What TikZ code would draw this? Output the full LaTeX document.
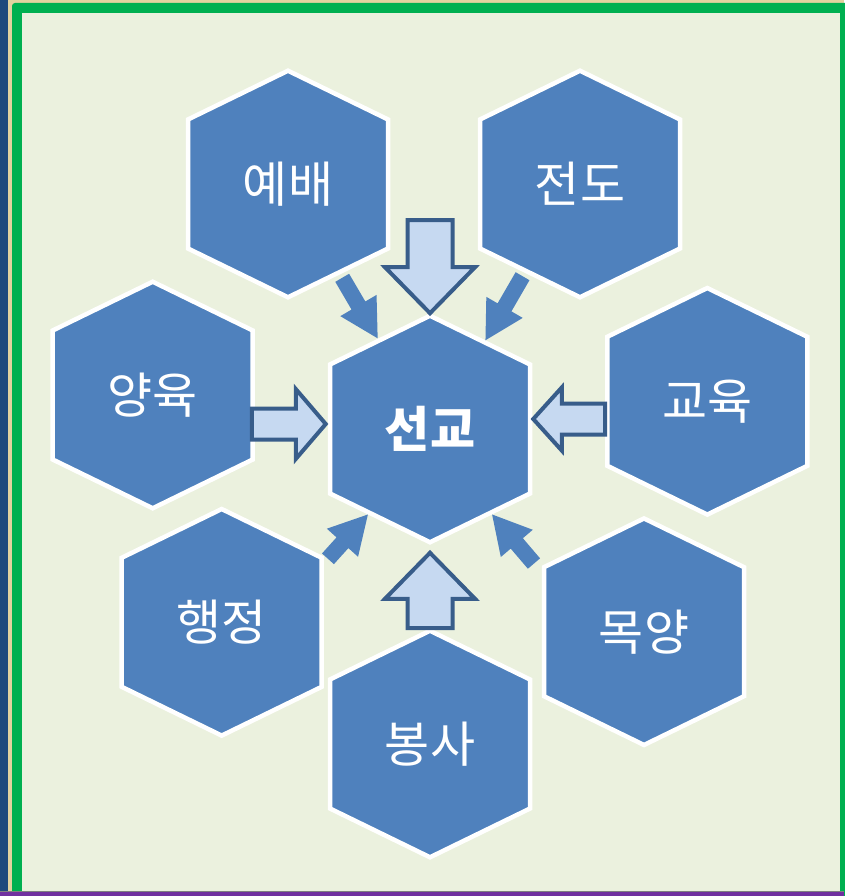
\documentclass[tikz,border=0pt]{standalone}
\usepackage{fontspec}
\newfontfamily\krfont{Noto Sans CJK KR}
\usetikzlibrary{shapes.symbols,calc}

\definecolor{hexblue}{HTML}{4F81BD}
\definecolor{arrowfill}{HTML}{C6D9F1}
\definecolor{arrowline}{HTML}{385D8A}
\definecolor{panel}{HTML}{EBF1DE}
\definecolor{framegreen}{HTML}{00B050}
\definecolor{sidebar}{HTML}{1F497D}
\definecolor{footbar}{HTML}{7030A0}
\definecolor{sand}{HTML}{E3D3A0}

\tikzset{
  hexa/.style={signal, signal to=north and south, signal pointer angle=128,
    minimum width=200pt, minimum height=173pt, inner sep=0pt,
    fill=hexblue, draw=white, line width=4.5pt, text=white,
    font=\krfont\fontsize{49pt}{56pt}\selectfont},
  arrow dims/.code n args={4}{\def\argap{#1}\def\arshaft{#2}\def\arhead{#3}\def\arlen{#4}},
  arrow dims={0pt}{8pt}{21pt}{38pt},
  blockpath/.style={to path={
    ($(\tikztostart)!\argap!(\tikztotarget)$) coordinate (ar-s)
    ($(\tikztotarget)!\arlen!(\tikztostart)$) coordinate (ar-h)
    ($(ar-s)!\arshaft!90:(\tikztotarget)$)
    -- ($(ar-h)!\arshaft!90:(\tikztotarget)$)
    -- ($(ar-h)!\arhead!90:(\tikztotarget)$)
    -- (\tikztotarget)
    -- ($(ar-h)!\arhead!-90:(\tikztotarget)$)
    -- ($(ar-h)!\arshaft!-90:(\tikztotarget)$)
    -- ($(ar-s)!\arshaft!-90:(\tikztotarget)$)
    -- cycle}},
  bigarrow/.style={blockpath, fill=arrowfill, draw=arrowline, line width=4pt, line join=miter},
  smallarrow/.style={blockpath, fill=hexblue, draw=none}
}

\begin{document}
\begin{tikzpicture}[x=1pt,y=-1pt]
        \useasboundingbox (0,0) rectangle (844,896);
        \fill[sand] (0,0) rectangle (844,896);
        \fill[sidebar] (0,0) rectangle (8.3,896);
        \fill[framegreen, rounded corners=3pt] (12,3) rectangle (856,908);
        \fill[panel] (22,13) rectangle (840,891);
        \fill[gray] (0,890.7) rectangle (844,891.7);
        \fill[footbar] (0,891.7) rectangle (844,896);

        \node[hexa] (yebae) at (288,184) {예배};
        \node[hexa] (jeondo) at (580,184) {전도};
        \node[hexa] (yangyuk) at (152.7,395) {양육};
        \node[hexa] (gyoyuk) at (707.3,401.3) {교육};
        \node[hexa] (haengjeong) at (221.7,622.3) {행정};
        \node[hexa] (mokyang) at (644,631.7) {목양};
        \node[hexa] (bongsa) at (430,744) {봉사};
        \node[hexa, font=\krfont\bfseries\fontsize{49pt}{56pt}\selectfont] (seongyo) at (430,429) {선교};

        \coordinate (topstart) at (430,220);
        \coordinate (leftrow) at (0,424);
        \coordinate (rightrow) at (0,419);

        \draw[bigarrow, arrow dims={0pt}{22.5pt}{45pt}{46pt}] (topstart) to (seongyo.north);
        \draw[bigarrow, arrow dims={0pt}{22.5pt}{45pt}{46pt}] (bongsa.north) to ($(seongyo.south)+(0,8)$);
        \draw[bigarrow, arrow dims={0pt}{15.5pt}{35pt}{30pt}] ($(yangyuk.east |- leftrow)+(-3,0)$) to ($(seongyo.west |- leftrow)+(-2,0)$);
        \draw[bigarrow, arrow dims={0pt}{15.5pt}{31.5pt}{28.5pt}] (gyoyuk.west |- rightrow) to ($(seongyo.east |- rightrow)+(1,0)$);

        \draw[smallarrow, arrow dims={4pt}{8pt}{21pt}{38pt}] (yebae.-60) to (seongyo.120);
        \draw[smallarrow, arrow dims={4pt}{8pt}{21pt}{38pt}] (jeondo.238) to (seongyo.58);
        \draw[smallarrow, arrow dims={6pt}{8pt}{21pt}{38pt}] (haengjeong.30) to (seongyo.234);
        \draw[smallarrow, arrow dims={12pt}{8pt}{21pt}{38pt}] (mokyang.150) to (seongyo.306);
\end{tikzpicture}
\end{document}
